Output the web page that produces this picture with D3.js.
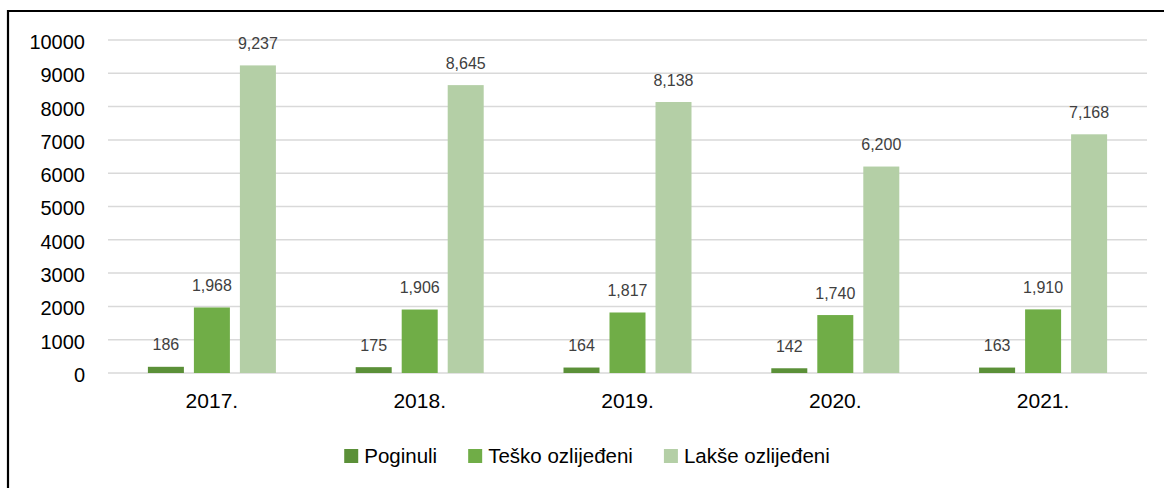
<!DOCTYPE html>
<html>
<head>
<meta charset="utf-8">
<script src="https://cdn.jsdelivr.net/npm/d3@7"></script>
<style>
  html, body { margin: 0; padding: 0; background: #fff; }
  svg { display: block; font-family: "Liberation Sans", Arial, sans-serif; }
</style>
</head>
<body>
<svg id="chart" width="1164" height="488"></svg>
<script>
const categories = ["2017.", "2018.", "2019.", "2020.", "2021."];
const seriesNames = ["Poginuli", "Teško ozlijeđeni", "Lakše ozlijeđeni"];
const poginuli = [186, 175, 164, 142, 163];
const teskoOzlijedeni = [1968, 1906, 1817, 1740, 1910];
const lakseOzlijedeni = [9237, 8645, 8138, 6200, 7168];
const yTicks = [0, 1000, 2000, 3000, 4000, 5000, 6000, 7000, 8000, 9000, 10000];
const colors = ["#5B9038", "#70AD47", "#B4CFA6"];

const seriesValues = [poginuli, teskoOzlijedeni, lakseOzlijedeni];

const svg = d3.select("#chart");
const W = 1164, H = 488;

// outer frame (left + top visible)
svg.append("path")
  .attr("d", `M8,${H + 5} L8,11 L${W + 5},11`)
  .attr("fill", "none").attr("stroke", "#000").attr("stroke-width", 2.2);

const x = d3.scaleBand().domain(categories).range([108, 1147]).paddingInner(0).paddingOuter(0);
const y = d3.scaleLinear().domain([0, 10000]).range([373, 40]);
const xs = d3.scaleBand().domain(d3.range(seriesNames.length)).range([-64, 64]).paddingInner(10 / 46).paddingOuter(0);

// gridlines
svg.append("g").selectAll("line").data(yTicks).join("line")
  .attr("x1", 108).attr("x2", 1147)
  .attr("y1", d => y(d)).attr("y2", d => y(d))
  .attr("stroke", "#D9D9D9").attr("stroke-width", 1.5);

// y axis labels
const yAxis = d3.axisLeft(y).tickValues(yTicks).tickSize(0).tickPadding(0).tickFormat(d3.format("d"));
const gy = svg.append("g").attr("transform", "translate(85,2)").call(yAxis);
gy.select(".domain").remove();
gy.selectAll("text").attr("font-size", 20).attr("fill", "#000")
  .attr("font-family", "'Liberation Sans', Arial, sans-serif");

// x axis labels
const xAxis = d3.axisBottom(x).tickSize(0).tickPadding(0);
const gx = svg.append("g").attr("transform", "translate(0,393)").call(xAxis);
gx.select(".domain").remove();
gx.selectAll("text").attr("font-size", 21).attr("fill", "#000").attr("dy", "0.71em")
  .attr("font-family", "'Liberation Sans', Arial, sans-serif");

// bars
const flat = [];
categories.forEach((c, i) => seriesValues.forEach((vals, s) => flat.push({ c, s, v: vals[i] })));

const barsG = svg.append("g");
barsG.selectAll("rect").data(flat).join("rect")
  .attr("x", d => x(d.c) + x.bandwidth() / 2 + xs(d.s))
  .attr("width", xs.bandwidth())
  .attr("y", d => y(d.v))
  .attr("height", d => y(0) - y(d.v))
  .attr("fill", d => colors[d.s]);

// data labels
const fmt = d3.format(",");
svg.append("g").selectAll("text").data(flat).join("text")
  .attr("x", d => x(d.c) + x.bandwidth() / 2 + xs(d.s) + xs.bandwidth() / 2)
  .attr("y", d => y(d.v) - 16.5)
  .attr("text-anchor", "middle")
  .attr("font-size", 16)
  .attr("fill", "#404040")
  .text(d => fmt(d.v));

// legend
const legend = svg.append("g");
const items = legend.selectAll("g").data(seriesNames).join("g");
items.append("rect").attr("width", 14).attr("height", 14).attr("y", -14)
  .attr("fill", (d, i) => colors[i]);
items.append("text").attr("x", 20).attr("y", 0)
  .attr("font-size", 20.5).attr("fill", "#000").text(d => d);
let cx = 0;
const offsets = [];
items.each(function (d, i) {
  offsets.push(cx);
  const w = 20 + this.querySelector("text").getComputedTextLength();
  cx += w + 31;
});
const total = cx - 31;
const startX = 587 - total / 2;
items.attr("transform", (d, i) => `translate(${startX + offsets[i]},463)`);
</script>
</body>
</html>
